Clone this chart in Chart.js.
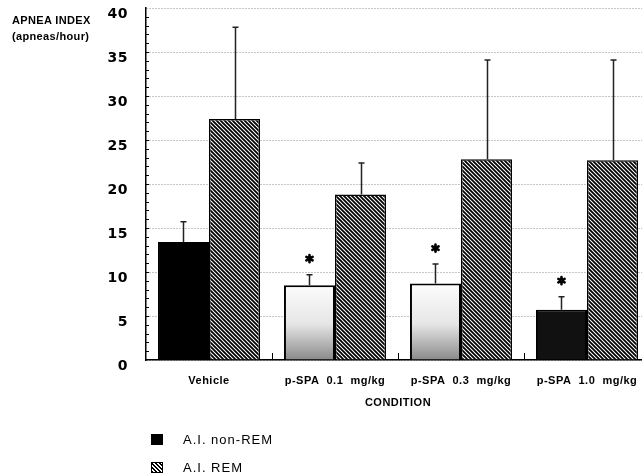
<!DOCTYPE html>
<html>
<head>
<meta charset="utf-8">
<script src="https://cdn.jsdelivr.net/npm/chart.js@4.4.1/dist/chart.umd.min.js"></script>
<style>
html, body { margin: 0; padding: 0; background: #fff; overflow: hidden; }
#wrap { position: relative; width: 642px; height: 473px; overflow: hidden; }
#chart { position: absolute; left: 0; top: 0; }
.ytitle { position: absolute; left: 12px; font: bold 11px "Liberation Sans", Arial, sans-serif; letter-spacing: 0.35px; color: #000; white-space: nowrap; }
.leg { position: absolute; left: 151px; height: 14px; display: flex; align-items: center; font: 13px "Liberation Sans", Arial, sans-serif; letter-spacing: 1px; color: #000; white-space: nowrap; }
.sw { width: 12px; height: 11px; margin-right: 20px; box-sizing: border-box; }
.sw.black { background: #000; }
.sw.hatch { border: 1px solid #000; background: repeating-linear-gradient(45deg, #000 0 1.4px, #fff 1.4px 2.8px); }
</style>
</head>
<body>
<div id="wrap">
  <canvas id="chart" width="662" height="473"></canvas>
  <div class="ytitle" style="top:14px">APNEA INDEX</div>
  <div class="ytitle" style="top:30px">(apneas/hour)</div>
  <div class="leg" style="top:432px"><div class="sw black"></div>A.I. non-REM</div>
  <div class="leg" style="top:460px"><div class="sw hatch"></div>A.I. REM</div>
</div>
<script>
// values
const categories = ['Vehicle', 'p-SPA  0.1  mg/kg', 'p-SPA  0.3  mg/kg', 'p-SPA  1.0  mg/kg'];
const nonRem = [13.4, 8.5, 8.7, 5.7];
const nonRemErr = [2.3, 1.2, 2.2, 1.5];
const rem = [27.4, 18.8, 22.8, 22.7];
const remErr = [10.4, 3.6, 11.3, 11.4];
const significant = [false, true, true, true];
const yTicks = [0, 5, 10, 15, 20, 25, 30, 35, 40];

// diagonal hatch for the REM bars
function hatchPattern() {
    const c = document.createElement('canvas');
    c.width = 4; c.height = 4;
    const g = c.getContext('2d');
    g.fillStyle = '#fff';
    g.fillRect(0, 0, 4, 4);
    g.strokeStyle = '#000';
    g.lineWidth = 1.8;
    g.beginPath();
    g.moveTo(-1, -1); g.lineTo(5, 5);
    g.moveTo(-1, 3); g.lineTo(1, 5);
    g.moveTo(3, -1); g.lineTo(5, 1);
    g.stroke();
    return g.createPattern(c, 'repeat');
}

const extras = {
    id: 'extras',
    beforeDraw(chart) {
        // the printed lettering is a little spaced out
        chart.ctx.letterSpacing = '0.5px';
    },
    afterDatasetsDraw(chart) {
        const ctx = chart.ctx, x = chart.scales.x, y = chart.scales.y, area = chart.chartArea;
        ctx.save();
        ctx.strokeStyle = '#000';
        ctx.lineWidth = 1;
        // small unit ticks on the inside of the y axis
        for (let v = 1; v < 40; v++) {
            const py = Math.round(y.getPixelForValue(v)) + 0.5;
            ctx.beginPath();
            ctx.moveTo(area.left, py);
            ctx.lineTo(area.left + 3, py);
            ctx.stroke();
        }
        // short marks between the groups
        for (let i = 1; i < categories.length; i++) {
            const px = Math.round((x.getPixelForValue(i - 1) + x.getPixelForValue(i)) / 2) + 0.5;
            ctx.beginPath();
            ctx.moveTo(px, area.bottom);
            ctx.lineTo(px, area.bottom - 7);
            ctx.stroke();
        }
        // one sided error bars
        const errs = [nonRemErr, remErr];
        const vals = [nonRem, rem];
        ctx.strokeStyle = '#222';
        ctx.lineWidth = 1.5;
        errs.forEach((err, d) => {
            chart.getDatasetMeta(d).data.forEach((bar, i) => {
                const top = y.getPixelForValue(vals[d][i] + err[i]);
                const px = Math.round(bar.x) + 0.5;
                ctx.beginPath();
                ctx.moveTo(px, bar.y);
                ctx.lineTo(px, top);
                ctx.moveTo(px - 3, top);
                ctx.lineTo(px + 3, top);
                ctx.stroke();
            });
        });
        // heavy asterisks over the non-REM bars
        ctx.strokeStyle = '#000';
        ctx.fillStyle = '#000';
        ctx.lineWidth = 2.6;
        ctx.lineCap = 'round';
        chart.getDatasetMeta(0).data.forEach((bar, i) => {
            if (!significant[i]) return;
            const cy = y.getPixelForValue(nonRem[i] + nonRemErr[i]) - 16;
            const cx = bar.x;
            ctx.beginPath();
            for (let k = 0; k < 3; k++) {
                const a = Math.PI / 2 + k * Math.PI / 3;
                ctx.moveTo(cx + 3.6 * Math.cos(a), cy + 3.6 * Math.sin(a));
                ctx.lineTo(cx - 3.6 * Math.cos(a), cy - 3.6 * Math.sin(a));
            }
            ctx.stroke();
            ctx.beginPath();
            ctx.arc(cx, cy, 2.6, 0, Math.PI * 2);
            ctx.fill();
        });
        ctx.restore();
    }
};

const ctx = document.getElementById('chart').getContext('2d');
const hatch = hatchPattern();

new Chart(ctx, {
    type: 'bar',
    data: {
        labels: categories,
        datasets: [
            {
                label: 'A.I. non-REM',
                data: nonRem,
                backgroundColor: (c) => {
                    const i = c.dataIndex;
                    if (i === 0) return '#000';
                    if (i === 3) return '#111';
                    const area = c.chart.chartArea;
                    if (!area) return '#fff';
                    const g = c.chart.ctx.createLinearGradient(0, area.bottom - 80, 0, area.bottom);
                    g.addColorStop(0, '#fff');
                    g.addColorStop(0.55, '#e6e6e6');
                    g.addColorStop(1, '#8a8a8a');
                    return g;
                },
                borderColor: '#000',
                borderWidth: 2,
                categoryPercentage: 0.81,
                barPercentage: 1.0
            },
            {
                label: 'A.I. REM',
                data: rem,
                backgroundColor: hatch,
                borderColor: '#000',
                borderWidth: 1.5,
                categoryPercentage: 0.81,
                barPercentage: 1.0
            }
        ]
    },
    options: {
        responsive: false,
        animation: false,
        devicePixelRatio: 1,
        layout: { padding: { left: 0, right: 12, top: 8, bottom: 59 } },
        plugins: {
            legend: { display: false },
            tooltip: { enabled: false }
        },
        scales: {
            x: {
                grid: { display: false },
                border: { display: true, color: '#000', width: 1.5 },
                ticks: {
                    color: '#000',
                    padding: 6,
                    maxRotation: 0,
                    autoSkip: false,
                    font: { family: '"Liberation Sans", Arial, sans-serif', size: 11, weight: 'bold' }
                },
                title: {
                    display: true,
                    text: 'CONDITION',
                    color: '#000',
                    padding: { top: 4, bottom: 4 },
                    font: { family: '"Liberation Sans", Arial, sans-serif', size: 11, weight: 'bold' }
                },
                afterFit: (s) => { s.height = 54; s.paddingLeft = 0; s.paddingRight = 0; }
            },
            y: {
                min: 0,
                max: 40,
                afterBuildTicks: (s) => { s.ticks = yTicks.map(v => ({ value: v })); },
                grid: { color: '#8c8c8c', lineWidth: 1, drawTicks: false },
                border: { display: true, color: '#000', width: 1.5, dash: [1, 2] },
                ticks: {
                    color: '#000',
                    padding: 18,
                    labelOffset: 6,
                    font: { family: '"DejaVu Sans", sans-serif', size: 14, weight: 'bold' }
                },
                afterFit: (s) => { s.width = 146; s.paddingTop = 0; s.paddingBottom = 0; }
            }
        }
    },
    plugins: [extras]
});
</script>
</body>
</html>
